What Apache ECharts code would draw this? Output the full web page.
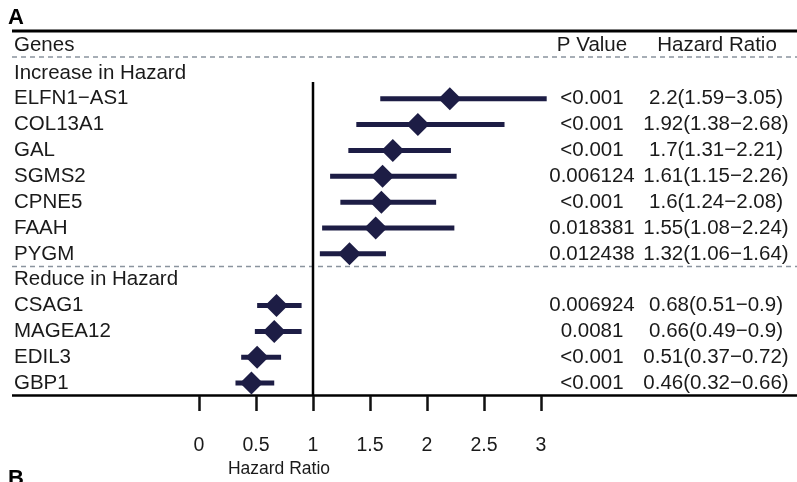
<!DOCTYPE html>
<html>
<head>
<meta charset="utf-8">
<script src="https://cdn.jsdelivr.net/npm/echarts@6/dist/echarts.min.js"></script>
<style>
  html, body { margin: 0; padding: 0; background: #fff; }
  #chart { width: 797px; height: 482px; }
</style>
</head>
<body>
<div id="chart"></div>
<script>
const genesUp = ['ELFN1\u2212AS1', 'COL13A1', 'GAL', 'SGMS2', 'CPNE5', 'FAAH', 'PYGM'];
const genesDown = ['CSAG1', 'MAGEA12', 'EDIL3', 'GBP1'];
const hazard = [2.2, 1.92, 1.7, 1.61, 1.6, 1.55, 1.32, 0.68, 0.66, 0.51, 0.46];
const lower = [1.59, 1.38, 1.31, 1.15, 1.24, 1.08, 1.06, 0.51, 0.49, 0.37, 0.32];
const upper = [3.05, 2.68, 2.21, 2.26, 2.08, 2.24, 1.64, 0.9, 0.9, 0.72, 0.66];
const pValues = ['<0.001', '<0.001', '<0.001', '0.006124', '<0.001', '0.018381', '0.012438',
  '0.006924', '0.0081', '<0.001', '<0.001'];
const xTicks = [0, 0.5, 1, 1.5, 2, 2.5, 3];

const FONT = "'Liberation Sans', Arial, Helvetica, sans-serif";
const INK = '#1a1a1a';
const MARK = '#1d1d45';

// table rows: section headers + genes
const rows = ['Increase in Hazard'].concat(genesUp, ['Reduce in Hazard'], genesDown);
const genes = genesUp.concat(genesDown);
const rowOf = g => rows.indexOf(g);

const hrText = genes.map((g, i) => hazard[i] + '(' + lower[i] + '\u2212' + upper[i] + ')');
const pByRow = {}, hrByRow = {};
genes.forEach((g, i) => { pByRow[g] = pValues[i]; hrByRow[g] = hrText[i]; });

const chart = echarts.init(document.getElementById('chart'));

const rightAxis = (margin, lookup) => ({
  type: 'category',
  data: rows,
  inverse: true,
  position: 'right',
  axisLine: { show: false },
  axisTick: { show: false },
  axisLabel: {
    interval: 0,
    margin: margin,
    align: 'center',
    fontSize: 20.5,
    fontFamily: FONT,
    color: INK,
    formatter: v => lookup[v] || ''
  }
});

chart.setOption({
  animation: false,
  grid: { left: 199, right: 256, top: 60, bottom: 86 },
  xAxis: {
    type: 'value',
    min: 0,
    max: 3,
    interval: 0.5,
    splitLine: { show: false },
    axisLine: { show: false },
    axisTick: { show: true, length: 15, lineStyle: { color: '#111', width: 2.5 } },
    axisLabel: {
      margin: 40,
      fontSize: 19.5,
      fontFamily: FONT,
      color: INK,
      formatter: v => (xTicks.indexOf(v) >= 0 ? String(v) : '')
    }
  },
  yAxis: [
    {
      type: 'category',
      data: rows,
      inverse: true,
      axisLine: { show: false },
      axisTick: { show: false },
      axisLabel: {
        interval: 0,
        margin: 185,
        align: 'left',
        fontSize: 20.5,
        fontFamily: FONT,
        color: INK
      }
    },
    rightAxis(51, pByRow),
    rightAxis(175, hrByRow)
  ],
  series: [
    {
      // reference line at HR = 1
      type: 'custom',
      data: [[1]],
      silent: true,
      z: 1,
      renderItem: (params, api) => {
        const top = api.coord([1, 0]);
        const bottom = api.coord([1, rows.length - 1]);
        const band = api.size([0, 1])[1];
        return {
          type: 'line',
          shape: { x1: top[0], y1: top[1] + band * 0.35, x2: bottom[0], y2: bottom[1] + band / 2 },
          style: { stroke: '#000', lineWidth: 2.5 }
        };
      }
    },
    {
      // confidence intervals
      type: 'custom',
      data: genes.map((g, i) => [lower[i], upper[i], rowOf(g)]),
      encode: { x: [0, 1], y: 2 },
      z: 2,
      renderItem: (params, api) => {
        const a = api.coord([api.value(0), api.value(2)]);
        const b = api.coord([api.value(1), api.value(2)]);
        return {
          type: 'line',
          shape: { x1: a[0], y1: a[1], x2: b[0], y2: b[1] },
          style: { stroke: MARK, lineWidth: 5 }
        };
      }
    },
    {
      type: 'scatter',
      data: genes.map((g, i) => [hazard[i], g]),
      symbol: 'diamond',
      symbolSize: 23,
      itemStyle: { color: MARK, opacity: 1 },
      z: 3
    }
  ],
  graphic: [
    { type: 'line', shape: { x1: 12, y1: 31, x2: 797, y2: 31 }, style: { stroke: '#000', lineWidth: 3 } },
    { type: 'line', shape: { x1: 12, y1: 57, x2: 797, y2: 57 }, style: { stroke: '#8a949e', lineWidth: 1.5, lineDash: [5, 4] } },
    { type: 'line', shape: { x1: 12, y1: 266.5, x2: 797, y2: 266.5 }, style: { stroke: '#8a949e', lineWidth: 1.5, lineDash: [5, 4] } },
    { type: 'line', shape: { x1: 12, y1: 395.5, x2: 797, y2: 395.5 }, style: { stroke: '#000', lineWidth: 2.5 } },
    { type: 'text', x: 8, y: 7, style: { text: 'A', font: 'bold 22px ' + FONT, fill: '#000' } },
    { type: 'text', x: 8, y: 468, style: { text: 'B', font: 'bold 22px ' + FONT, fill: '#000' } },
    { type: 'text', x: 14, y: 45, style: { text: 'Genes', font: '20.5px ' + FONT, fill: INK, textVerticalAlign: 'middle' } },
    { type: 'text', x: 592, y: 45, style: { text: 'P Value', font: '20.5px ' + FONT, fill: INK, textAlign: 'center', textVerticalAlign: 'middle' } },
    { type: 'text', x: 717, y: 45, style: { text: 'Hazard Ratio', font: '20.5px ' + FONT, fill: INK, textAlign: 'center', textVerticalAlign: 'middle' } },
    { type: 'text', x: 279, y: 469, style: { text: 'Hazard Ratio', font: '17.5px ' + FONT, fill: INK, textAlign: 'center', textVerticalAlign: 'middle' } }
  ]
});
</script>
</body>
</html>
